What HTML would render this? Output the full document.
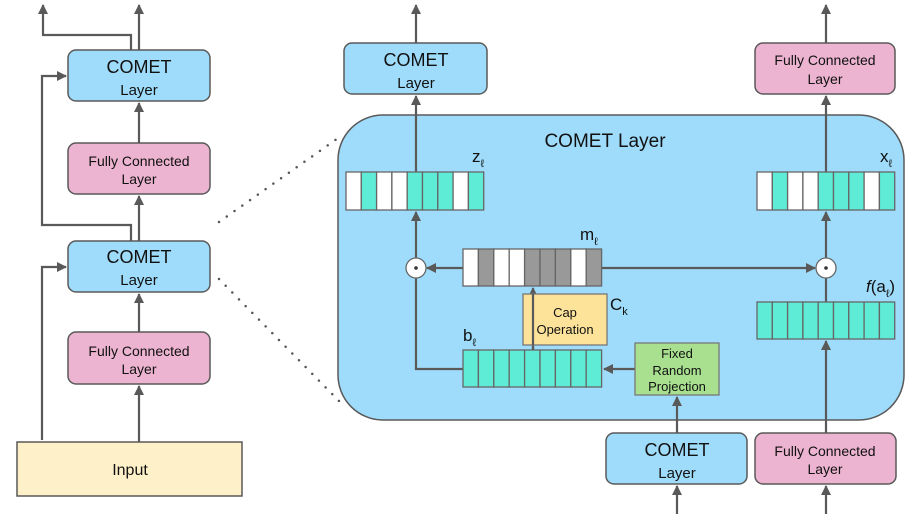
<!DOCTYPE html>
<html><head><meta charset="utf-8"><style>
html,body{margin:0;padding:0;background:#fff;}
svg{display:block;}
text{font-family:"Liberation Sans",sans-serif;fill:#111;}
</style></head><body>
<svg width="913" height="514" viewBox="0 0 913 514" xmlns="http://www.w3.org/2000/svg">
<defs>
<marker id="a" markerWidth="10" markerHeight="10" refX="9" refY="5" orient="auto" markerUnits="userSpaceOnUse">
<path d="M0,0 L10,5 L0,10 z" fill="#595959"/></marker>
</defs>
<g stroke="#595959" stroke-width="2.2" fill="none">
<!-- left column -->
<line x1="139" y1="50" x2="139" y2="5" marker-end="url(#a)"/>
<polyline points="131,50 131,35 43,35 43,5" marker-end="url(#a)"/>
<line x1="139" y1="143" x2="139" y2="103" marker-end="url(#a)"/>
<line x1="139" y1="241" x2="139" y2="196" marker-end="url(#a)"/>
<polyline points="131,241 131,225 42,225 42,76 66,76" marker-end="url(#a)"/>
<line x1="139" y1="332" x2="139" y2="294" marker-end="url(#a)"/>
<line x1="139" y1="442" x2="139" y2="386" marker-end="url(#a)"/>
<polyline points="42,440 42,267 66,267" marker-end="url(#a)"/>
</g>
<g stroke="#595959" stroke-width="1.5">
<rect x="68" y="50" width="142" height="51" rx="8" fill="#9fdcfb"/>
<rect x="68" y="143" width="142" height="51" rx="8" fill="#ecb4d0"/>
<rect x="68" y="241" width="142" height="51" rx="8" fill="#9fdcfb"/>
<rect x="68" y="332" width="142" height="52" rx="8" fill="#ecb4d0"/>
<rect x="17" y="442" width="225" height="54" fill="#fef0c9"/>
</g>
<text x="139" y="73" font-size="18" text-anchor="middle">COMET</text>
<text x="139" y="95" font-size="15" text-anchor="middle">Layer</text>
<text x="139" y="166" font-size="14" text-anchor="middle">Fully Connected</text>
<text x="139" y="184" font-size="14" text-anchor="middle">Layer</text>
<text x="139" y="263" font-size="18" text-anchor="middle">COMET</text>
<text x="139" y="285" font-size="15" text-anchor="middle">Layer</text>
<text x="139" y="356" font-size="14" text-anchor="middle">Fully Connected</text>
<text x="139" y="374" font-size="14" text-anchor="middle">Layer</text>
<text x="130" y="475" font-size="16" text-anchor="middle">Input</text>
<!-- dotted -->
<g stroke="#555" stroke-width="2.5" stroke-linecap="round" stroke-dasharray="0 9.5">
<line x1="219" y1="222" x2="341" y2="136"/>
<line x1="219" y1="279" x2="340" y2="402"/>
</g>
<!-- big container -->
<rect x="338" y="115" width="566" height="305" rx="45" fill="#9fdcfb" stroke="#595959" stroke-width="1.5"/>
<text x="605" y="147" font-size="19" text-anchor="middle">COMET Layer</text>
<!-- connectors in container -->
<g stroke="#595959" stroke-width="2.2" fill="none">
<line x1="416" y1="43" x2="416" y2="5" marker-end="url(#a)"/>
<line x1="826" y1="43" x2="826" y2="5" marker-end="url(#a)"/>
<line x1="416" y1="172" x2="416" y2="96" marker-end="url(#a)"/>
<line x1="826" y1="172" x2="826" y2="96" marker-end="url(#a)"/>
<line x1="416" y1="258" x2="416" y2="212" marker-end="url(#a)"/>
<line x1="826" y1="258" x2="826" y2="212" marker-end="url(#a)"/>
<line x1="826" y1="302" x2="826" y2="278"/>
<line x1="463" y1="268" x2="427" y2="268" marker-end="url(#a)"/>
<line x1="602" y1="268" x2="815" y2="268" marker-end="url(#a)"/>
<polyline points="463,369 416,369 416,278"/>
<line x1="533" y1="350" x2="533" y2="288" marker-end="url(#a)"/>
<line x1="635" y1="369" x2="604" y2="369" marker-end="url(#a)"/>
<line x1="677" y1="433" x2="677" y2="397" marker-end="url(#a)"/>
<line x1="826" y1="433" x2="826" y2="341" marker-end="url(#a)"/>
<line x1="677" y1="514" x2="677" y2="486" marker-end="url(#a)"/>
<line x1="826" y1="514" x2="826" y2="486" marker-end="url(#a)"/>
</g>
<!-- bars -->
<g stroke="#666" stroke-width="1.3">
<!-- z -->
<rect x="346" y="172" width="15.3" height="38" fill="#fff"/>
<rect x="361.3" y="172" width="15.3" height="38" fill="#5eecd6"/>
<rect x="376.6" y="172" width="15.3" height="38" fill="#fff"/>
<rect x="391.9" y="172" width="15.3" height="38" fill="#fff"/>
<rect x="407.2" y="172" width="15.3" height="38" fill="#5eecd6"/>
<rect x="422.5" y="172" width="15.3" height="38" fill="#5eecd6"/>
<rect x="437.8" y="172" width="15.3" height="38" fill="#5eecd6"/>
<rect x="453.1" y="172" width="15.3" height="38" fill="#fff"/>
<rect x="468.4" y="172" width="15.3" height="38" fill="#5eecd6"/>
<!-- x -->
<rect x="757" y="172" width="15.3" height="38" fill="#fff"/>
<rect x="772.3" y="172" width="15.3" height="38" fill="#5eecd6"/>
<rect x="787.6" y="172" width="15.3" height="38" fill="#fff"/>
<rect x="802.9" y="172" width="15.3" height="38" fill="#fff"/>
<rect x="818.2" y="172" width="15.3" height="38" fill="#5eecd6"/>
<rect x="833.5" y="172" width="15.3" height="38" fill="#5eecd6"/>
<rect x="848.8" y="172" width="15.3" height="38" fill="#5eecd6"/>
<rect x="864.1" y="172" width="15.3" height="38" fill="#fff"/>
<rect x="879.4" y="172" width="15.3" height="38" fill="#5eecd6"/>
<!-- m -->
<rect x="463" y="249" width="15.4" height="37" fill="#fff"/>
<rect x="478.4" y="249" width="15.4" height="37" fill="#999"/>
<rect x="493.8" y="249" width="15.4" height="37" fill="#fff"/>
<rect x="509.2" y="249" width="15.4" height="37" fill="#fff"/>
<rect x="524.6" y="249" width="15.4" height="37" fill="#999"/>
<rect x="540" y="249" width="15.4" height="37" fill="#999"/>
<rect x="555.4" y="249" width="15.4" height="37" fill="#999"/>
<rect x="570.8" y="249" width="15.4" height="37" fill="#fff"/>
<rect x="586.2" y="249" width="15.4" height="37" fill="#999"/>
</g>
<g stroke="#666" stroke-width="1.3" fill="#5eecd6">
<rect x="463" y="350" width="15.4" height="37"/><rect x="478.4" y="350" width="15.4" height="37"/><rect x="493.8" y="350" width="15.4" height="37"/><rect x="509.2" y="350" width="15.4" height="37"/><rect x="524.6" y="350" width="15.4" height="37"/><rect x="540" y="350" width="15.4" height="37"/><rect x="555.4" y="350" width="15.4" height="37"/><rect x="570.8" y="350" width="15.4" height="37"/><rect x="586.2" y="350" width="15.4" height="37"/>
<rect x="757" y="302" width="15.3" height="37"/><rect x="772.3" y="302" width="15.3" height="37"/><rect x="787.6" y="302" width="15.3" height="37"/><rect x="802.9" y="302" width="15.3" height="37"/><rect x="818.2" y="302" width="15.3" height="37"/><rect x="833.5" y="302" width="15.3" height="37"/><rect x="848.8" y="302" width="15.3" height="37"/><rect x="864.1" y="302" width="15.3" height="37"/><rect x="879.4" y="302" width="15.3" height="37"/>
</g>
<line x1="533" y1="350" x2="533" y2="296" stroke="#595959" stroke-width="2.2"/>
<!-- circles -->
<g stroke="#666" stroke-width="1.3" fill="#fff">
<circle cx="416" cy="268" r="10"/><circle cx="826" cy="268" r="10"/>
</g>
<circle cx="416" cy="268" r="1.8" fill="#333"/><circle cx="826" cy="268" r="1.8" fill="#333"/>
<!-- cap & frp -->
<rect x="523" y="294" width="84" height="51" fill="#fde29a" stroke="#777" stroke-width="1.3"/>
<line x1="533" y1="345" x2="533" y2="294" stroke="#595959" stroke-width="2.2"/>
<text x="565" y="317" font-size="13" text-anchor="middle">Cap</text>
<text x="565" y="334" font-size="13" text-anchor="middle">Operation</text>
<rect x="635" y="343" width="84" height="52" fill="#a8e090" stroke="#777" stroke-width="1.3"/>
<text x="677" y="358" font-size="13" text-anchor="middle">Fixed</text>
<text x="677" y="375" font-size="13" text-anchor="middle">Random</text>
<text x="677" y="391" font-size="13" text-anchor="middle">Projection</text>
<!-- labels -->
<text x="472" y="162" font-size="17">z<tspan font-size="11" dy="5">ℓ</tspan></text>
<text x="880" y="162" font-size="17">x<tspan font-size="11" dy="5">ℓ</tspan></text>
<text x="580" y="240" font-size="17">m<tspan font-size="11" dy="5">ℓ</tspan></text>
<text x="463" y="341" font-size="17">b<tspan font-size="11" dy="5">ℓ</tspan></text>
<text x="610" y="310" font-size="17">C<tspan font-size="11" dy="5">k</tspan></text>
<text x="866" y="292" font-size="17"><tspan font-style="italic">f</tspan>(a<tspan font-size="11" dy="5">ℓ</tspan><tspan dy="-5">)</tspan></text>
<!-- right boxes -->
<g stroke="#595959" stroke-width="1.5">
<rect x="344" y="43" width="143" height="51" rx="8" fill="#9fdcfb"/>
<rect x="755" y="43" width="140" height="51" rx="8" fill="#ecb4d0"/>
<rect x="606" y="433" width="141" height="51" rx="8" fill="#9fdcfb"/>
<rect x="755" y="433" width="141" height="51" rx="8" fill="#ecb4d0"/>
</g>
<text x="416" y="66" font-size="18" text-anchor="middle">COMET</text>
<text x="416" y="88" font-size="15" text-anchor="middle">Layer</text>
<text x="825" y="65" font-size="14" text-anchor="middle">Fully Connected</text>
<text x="825" y="84" font-size="14" text-anchor="middle">Layer</text>
<text x="677" y="456" font-size="18" text-anchor="middle">COMET</text>
<text x="677" y="478" font-size="15" text-anchor="middle">Layer</text>
<text x="825" y="456" font-size="14" text-anchor="middle">Fully Connected</text>
<text x="825" y="474" font-size="14" text-anchor="middle">Layer</text>
</svg>
</body></html>
